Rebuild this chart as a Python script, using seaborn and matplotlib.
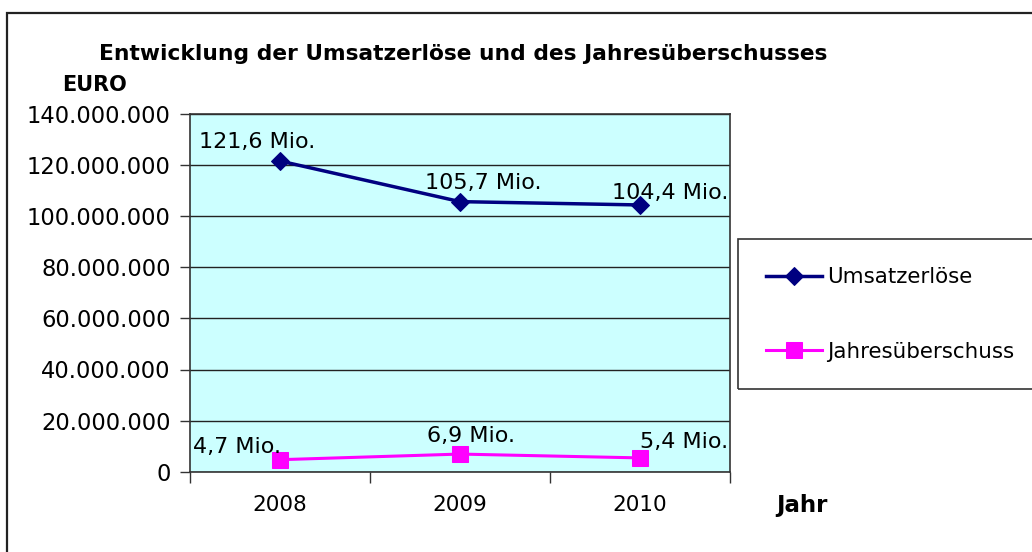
import matplotlib
matplotlib.use("Agg")
import matplotlib.pyplot as plt
import seaborn as sns
import pandas as pd
from matplotlib.patches import Rectangle
from matplotlib.ticker import FuncFormatter

years = ["2008", "2009", "2010"]
umsatz = [121.6e6, 105.7e6, 104.4e6]
ueberschuss = [4.7e6, 6.9e6, 5.4e6]
umsatz_labels = ["121,6 Mio.", "105,7 Mio.", "104,4 Mio."]
ueberschuss_labels = ["4,7 Mio.", "6,9 Mio.", "5,4 Mio."]
series_names = ["Umsatzerlöse", "Jahresüberschuss"]
title = "Entwicklung der Umsatzerlöse und des Jahresüberschusses"

W, H = 1032, 552
plt.rcParams['font.family'] = ['DejaVu Sans']
fig = plt.figure(figsize=(W / 100, H / 100), dpi=100)
fig.patch.set_facecolor("white")

def fx(px):
    return px / W

def fy(py):
    return 1 - py / H

ax = fig.add_axes([fx(190), fy(471.7), fx(730) - fx(190), fy(114) - fy(471.7)])
ax.set_facecolor("#CCFFFF")

df = pd.DataFrame({"Jahr": years, "u": umsatz, "j": ueberschuss})
xpos = list(range(len(years)))
sns.lineplot(x=xpos, y=df["u"], ax=ax, color="#000080", lw=2.5, marker="D",
             markersize=9.5, markeredgecolor="#000080", label=series_names[0])
sns.lineplot(x=xpos, y=df["j"], ax=ax, color="#FF00FF", lw=2.2, marker="s",
             markersize=11, markeredgecolor="#FF00FF", label=series_names[1])

ax.set_xlim(-0.5, 2.5)
ax.set_ylim(0, 140e6)
ax.set_yticks([i * 20e6 for i in range(8)])
ax.yaxis.set_major_formatter(FuncFormatter(lambda v, p: f"{v:,.0f}".replace(",", ".")))
ax.set_xticks(xpos)
ax.set_xticklabels(years)
ax.set_xticks([-0.5, 0.5, 1.5, 2.5], minor=True)
ax.tick_params(axis="x", which="major", length=0, pad=17, labelsize=15.5)
ax.tick_params(axis="x", which="minor", length=8, width=1, color="#333333", direction="out")
ax.tick_params(axis="y", length=7, width=1, color="#333333", direction="out", labelsize=16.3, pad=7)
ax.grid(axis="y", color="#222222", lw=1)
ax.set_axisbelow(True)
for s in ax.spines.values():
    s.set_color("#333333")
    s.set_linewidth(1.2)
ax.set_xlabel("")
ax.set_ylabel("")

# data labels (offsets in pixels from point: left edge, baseline)
u_off = [(-81, 13), (-35, 12.6), (-28, 6)]
j_off = [(-87, 7), (-33, 12), (0, 10)]
for i, (v, lab) in enumerate(zip(umsatz, umsatz_labels)):
    ax.annotate(lab, (i, v), xytext=u_off[i], textcoords="offset pixels",
                ha="left", va="baseline", fontsize=16, color="black")
for i, (v, lab) in enumerate(zip(ueberschuss, ueberschuss_labels)):
    ax.annotate(lab, (i, v), xytext=j_off[i], textcoords="offset pixels",
                ha="left", va="baseline", fontsize=16, color="black", annotation_clip=False)

handles, labels = ax.get_legend_handles_labels()
ax.get_legend().remove()
leg = fig.legend(handles, labels, loc="upper left",
                 bbox_to_anchor=(fx(766), fy(267)), frameon=False,
                 fontsize=15.4, handlelength=2.6, handletextpad=0.25,
                 labelspacing=2.55, borderpad=0, borderaxespad=0)

fig.patches.append(Rectangle((fx(738), fy(389)), fx(1045) - fx(738), fy(239) - fy(389),
                             transform=fig.transFigure, fill=False, ec="#333333", lw=1.2))
fig.patches.append(Rectangle((fx(7), fy(560)), fx(1045) - fx(7), fy(13) - fy(560),
                             transform=fig.transFigure, fill=False, ec="#222222", lw=1.6))

fig.text(fx(463), fy(60), title, ha="center", va="baseline", fontsize=15.7, fontweight="bold")
fig.text(fx(62), fy(91), "EURO", ha="left", va="baseline", fontsize=15, fontweight="bold")
fig.text(fx(776), fy(512), "Jahr", ha="left", va="baseline", fontsize=16.5, fontweight="bold")

fig.savefig("out.png", dpi=100)
